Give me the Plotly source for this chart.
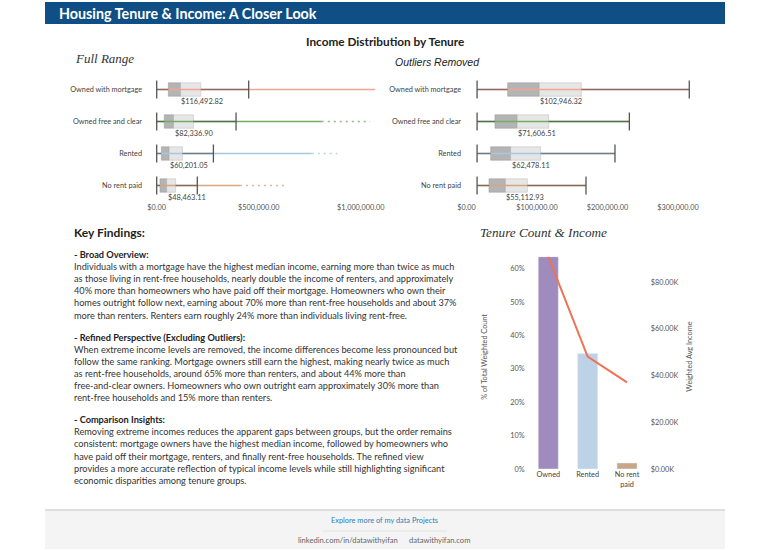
import plotly.graph_objects as go

W, H = 768, 550

# ---------------- data ----------------
tenure_categories = ["Owned with mortgage", "Owned free and clear", "Rented", "No rent paid"]

# Full range distribution (income, $)
full_min = [0, 0, 0, 0]
full_q1 = [57000, 37000, 22700, 16000]
full_median = [116492.82, 82336.90, 60201.05, 48463.11]
full_q3 = [216000, 180000, 126000, 93000]
full_upper_whisker = [451000, 389000, 278000, 199000]
full_outlier_dense_max = [1071000, 809000, 760000, 408000]
full_outlier_max = [1071000, 1046000, 885000, 624000]

# Outliers removed distribution (income, $)
trim_min = [15000, 15000, 15000, 15000]
trim_q1 = [58400, 40400, 34300, 31900]
trim_median = [102946.32, 71606.51, 62478.11, 55112.93]
trim_q3 = [162800, 116600, 105200, 86300]
trim_upper_whisker = [316000, 231000, 210600, 169500]

full_ticks = [0, 500000, 1000000]
trim_ticks = [0, 100000, 200000, 300000]

# Tenure count & income
tenure_groups = ["Owned", "Rented", "No rent paid"]
pct_weighted_count = [63.6, 34.6, 1.8]
weighted_avg_income = [90900, 48100, 37100]
pct_ticks = [0, 10, 20, 30, 40, 50, 60]
income_ticks = [0, 20000, 40000, 60000, 80000]

# Text
title_text = "Housing Tenure & Income: A Closer Look"
findings = [
    ("- Broad Overview:", [
        "Individuals with a mortgage have the highest median income, earning more than twice as much",
        "as those living in rent-free households, nearly double the income of renters, and approximately",
        "40% more than homeowners who have paid off their mortgage. Homeowners who own their",
        "homes outright follow next, earning about 70% more than rent-free households and about 37%",
        "more than renters. Renters earn roughly 24% more than individuals living rent-free.",
    ]),
    ("- Refined Perspective (Excluding Outliers):", [
        "When extreme income levels are removed, the income differences become less pronounced but",
        "follow the same ranking. Mortgage owners still earn the highest, making nearly twice as much",
        "as rent-free households, around 65% more than renters, and about 44% more than",
        "free-and-clear owners. Homeowners who own outright earn approximately 30% more than",
        "rent-free households and 15% more than renters.",
    ]),
    ("- Comparison Insights:", [
        "Removing extreme incomes reduces the apparent gaps between groups, but the order remains",
        "consistent: mortgage owners have the highest median income, followed by homeowners who",
        "have paid off their mortgage, renters, and finally rent-free households. The refined view",
        "provides a more accurate reflection of typical income levels while still highlighting significant",
        "economic disparities among tenure groups.",
    ]),
]

# ---------------- styles ----------------
BODY = "Lato, sans-serif"
SERIF = "Liberation Serif, serif"
cat_colors = ["#f2a393", "#72ad62", "#a9c7e3", "#d6a67f"]
group_colors = ["#a08cbc", "#bdd2e7", "#c9a786"]


def fx(px):
    return px / W


def fy(py):
    return 1 - py / H


fig = go.Figure()


def add_box(xa, ya, mins, q1, med, q3, whi, dense=None, mx=None):
    for i, cat in enumerate(tenure_categories):
        col = cat_colors[i]
        fig.add_trace(go.Scatter(x=[mins[i], whi[i]], y=[cat, cat], mode="lines",
                                 line=dict(color=col, width=1.6), xaxis=xa, yaxis=ya,
                                 hoverinfo="skip", showlegend=False))
        if dense is not None:
            fig.add_trace(go.Scatter(x=[whi[i], dense[i]], y=[cat, cat], mode="lines",
                                     line=dict(color=col, width=1.5), xaxis=xa, yaxis=ya,
                                     hoverinfo="skip", showlegend=False))
            if mx[i] > dense[i]:
                fig.add_trace(go.Scatter(x=[dense[i], mx[i]], y=[cat, cat], mode="lines",
                                         line=dict(color=col, width=1.3, dash="2px,4px"),
                                         opacity=0.8, xaxis=xa, yaxis=ya, hoverinfo="skip",
                                         showlegend=False))
        fig.add_trace(go.Scatter(x=[mins[i], q1[i], None, q3[i], whi[i]],
                                 y=[cat, cat, None, cat, cat], mode="lines",
                                 line=dict(color="rgba(60,60,60,0.55)", width=1.6),
                                 xaxis=xa, yaxis=ya, hoverinfo="skip", showlegend=False))
    fig.add_trace(go.Bar(y=tenure_categories, x=[m - a for m, a in zip(med, q1)], base=q1,
                         orientation="h", width=0.42,
                         marker=dict(color="rgba(105,105,105,0.5)",
                                     line=dict(color="rgba(150,150,150,0.6)", width=0.8)),
                         xaxis=xa, yaxis=ya, hoverinfo="skip", showlegend=False))
    fig.add_trace(go.Bar(y=tenure_categories, x=[b - m for b, m in zip(q3, med)], base=med,
                         orientation="h", width=0.42,
                         marker=dict(color="rgba(205,205,205,0.5)",
                                     line=dict(color="rgba(185,185,185,0.6)", width=0.8)),
                         xaxis=xa, yaxis=ya, hoverinfo="skip", showlegend=False))
    fig.add_trace(go.Scatter(x=list(mins) + list(whi), y=tenure_categories * 2, mode="markers",
                             marker=dict(symbol="line-ns", size=13,
                                         line=dict(color="#555555", width=1.3)),
                             xaxis=xa, yaxis=ya, hoverinfo="skip", showlegend=False))
    for i, cat in enumerate(tenure_categories):
        fig.add_annotation(x=med[i], y=cat, xref=xa, yref=ya, text=f"${med[i]:,.2f}",
                           showarrow=False, xanchor="left", yanchor="top", yshift=-5,
                           xshift=-1, font=dict(size=7.4, color="#444444", family=BODY))


add_box("x", "y", full_min, full_q1, full_median, full_q3, full_upper_whisker,
        full_outlier_dense_max, full_outlier_max)
add_box("x2", "y2", trim_min, trim_q1, trim_median, trim_q3, trim_upper_whisker)

# combo chart
fig.add_trace(go.Bar(x=tenure_groups, y=pct_weighted_count, marker=dict(color=group_colors),
                     width=0.51, xaxis="x3", yaxis="y3", showlegend=False,
                     hovertemplate="%{x}: %{y:.1f}%<extra></extra>"))
fig.add_trace(go.Scatter(x=tenure_groups, y=weighted_avg_income, mode="lines",
                         line=dict(color="#ec7357", width=2), xaxis="x3", yaxis="y4",
                         showlegend=False, cliponaxis=False,
                         hovertemplate="%{x}: $%{y:,.0f}<extra></extra>"))

# ---------------- axes ----------------
tickfont = dict(size=7.3, color="#555555", family=BODY)
catfont = dict(size=7.3, color="#444444", family=BODY)


def lin_range(dom_l, dom_r, zero_px, px_per_unit):
    return [(dom_l - zero_px) / px_per_unit, (dom_r - zero_px) / px_per_unit]


common_x = dict(showgrid=False, zeroline=False, showline=False, ticks="", tickfont=tickfont,
                tickformat="$,.2f", fixedrange=True, automargin=False)
common_y = dict(type="category", categoryorder="array", categoryarray=tenure_categories,
                range=[3.5, -0.5], showgrid=False, zeroline=False, showline=False, ticks="",
                tickfont=catfont, ticklabelstandoff=4, fixedrange=True, automargin=False)

fig.update_layout(
    xaxis=dict(domain=[fx(147), fx(385)], range=lin_range(147, 385, 156.7, 0.000204),
               tickvals=full_ticks, anchor="y", **common_x),
    yaxis=dict(domain=[fy(201.5), fy(73.5)], anchor="x", **common_y),
    xaxis2=dict(domain=[fx(466), fx(702)], range=lin_range(466, 702, 466.5, 0.000705),
                tickvals=trim_ticks, anchor="y2", **common_x),
    yaxis2=dict(domain=[fy(201.5), fy(73.5)], anchor="x2", **common_y),
    xaxis3=dict(domain=[fx(528.6), fx(646.7)], anchor="y3", type="category",
                range=[-0.5, len(tenure_groups) - 0.5], tickvals=tenure_groups,
                ticktext=[g if len(g) <= 8 else "<br>".join(g.rsplit(" ", 1)) for g in tenure_groups],
                showgrid=False, zeroline=False, showline=False, ticks="", tickfont=catfont,
                fixedrange=True, automargin=False),
    yaxis3=dict(domain=[fy(469), fy(256.7)], anchor="x3", range=[0, max(pct_weighted_count)],
                tickvals=pct_ticks, ticktext=[f"{v}%" for v in pct_ticks], showgrid=False,
                zeroline=False, showline=False, ticks="", tickfont=tickfont, ticklabelstandoff=3,
                fixedrange=True, automargin=False),
    yaxis4=dict(overlaying="y3", side="right", anchor="x3", range=[0, max(weighted_avg_income)],
                tickvals=income_ticks, ticktext=[f"${v / 1000:.2f}K" for v in income_ticks],
                showgrid=False, zeroline=False, showline=False, ticks="", tickfont=tickfont,
                ticklabelstandoff=3, fixedrange=True, automargin=False),
    barmode="overlay",
    width=W, height=H, margin=dict(l=0, r=0, t=0, b=0, pad=0, autoexpand=False),
    paper_bgcolor="white", plot_bgcolor="rgba(0,0,0,0)",
    font=dict(family=BODY, color="#333333"),
    showlegend=False,
)

# ---------------- decorations ----------------
shapes = [
    dict(type="rect", xref="paper", yref="paper", x0=fx(45), x1=fx(725), y0=fy(24), y1=fy(2),
         fillcolor="#0f4f86", line=dict(width=0), layer="below"),
    dict(type="rect", xref="paper", yref="paper", x0=fx(45), x1=fx(725), y0=fy(549), y1=fy(510),
         fillcolor="#f4f4f4", line=dict(width=0), layer="below"),
    dict(type="line", xref="paper", yref="paper", x0=fx(45), x1=fx(725), y0=fy(510), y1=fy(510),
         line=dict(color="#d6d6d6", width=1.5)),
    dict(type="line", xref="paper", yref="paper", x0=fx(323), x1=fx(447), y0=fy(531), y1=fy(531),
         line=dict(color="#e2e2e2", width=1)),
]
fig.update_layout(shapes=shapes)


def ann(px, py, text, size, color="#333333", family=BODY, xanchor="left", **kw):
    fig.add_annotation(x=fx(px), y=fy(py), xref="paper", yref="paper", text=text, showarrow=False,
                       xanchor=xanchor, yanchor="middle", font=dict(size=size, color=color, family=family),
                       **kw)


ann(57, 13, f"<b>{title_text}</b>", 14.3, color="white")
ann(384.7, 41, "<b>Income Distribution by Tenure</b>", 11.8, color="#222222", xanchor="center")
ann(73, 58, "<i>Full Range</i>", 13, color="#333333", family=SERIF)
ann(393, 62, "<i>Outliers Removed</i>", 10.5, color="#222222", family="Liberation Sans, Arial, sans-serif")
ann(478, 233, "<i>Tenure Count & Income</i>", 13.2, color="#333333", family=SERIF)
ann(72, 233, "<b>Key Findings:</b>", 12, color="#222222")

# axis titles of the combo chart
ann(485, 356.7, "% of Total Weighted Count", 7.3, color="#555555", xanchor="center", textangle=-90)
ann(690, 356.7, "Weighted Avg Income", 7.3, color="#555555", xanchor="center", textangle=-90)

y = 254.5
for heading, lines in findings:
    ann(72, y, f"<b>{heading}</b>", 9.2, color="#222222")
    y += 11.9
    for ln in lines:
        ann(72, y, ln, 9.2, color="#333333")
        y += 12.2
    y += 22 - 12.2

ann(384.7, 520, "Explore more of my data Projects", 7.4, color="#2c7fb8", xanchor="center")
ann(347.5, 540, "linkedin.com/in/datawithyifan", 7.6, color="#666666", xanchor="center")
ann(439.7, 540, "datawithyifan.com", 7.6, color="#666666", xanchor="center")

fig.write_html("out.html", config={"displayModeBar": False},
               post_script="document.body.style.margin='0';")
